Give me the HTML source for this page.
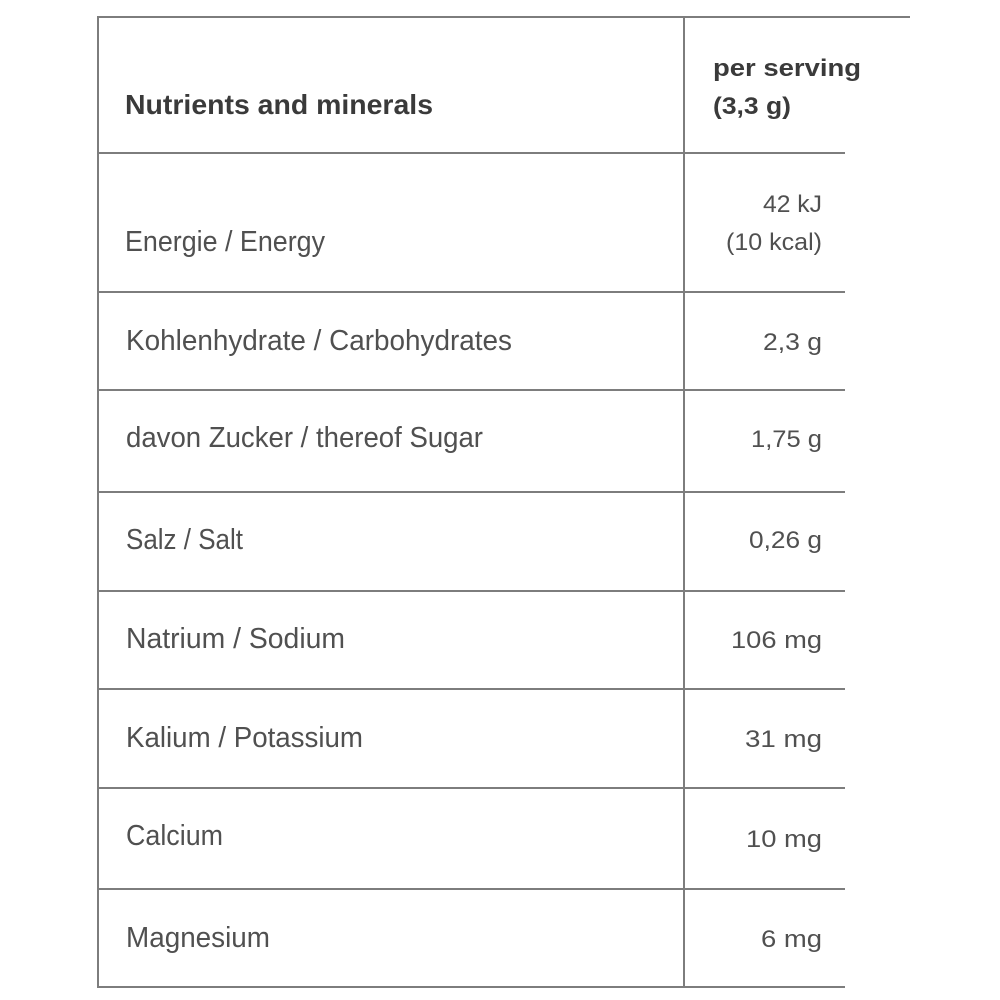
<!DOCTYPE html>
<html>
<head>
<meta charset="utf-8">
<style>
  html, body { margin: 0; padding: 0; background: #ffffff; }
  svg { display: block; }
  .l { font-family: "Liberation Sans", sans-serif; font-size: 29px; fill: #505050; }
  .v { font-family: "Liberation Sans", sans-serif; font-size: 24px; fill: #505050; }
  .h { font-family: "Liberation Sans", sans-serif; font-weight: bold; fill: #3a3a3a; }
</style>
</head>
<body>
<svg width="1000" height="1000" viewBox="0 0 1000 1000" xmlns="http://www.w3.org/2000/svg">
  <rect x="0" y="0" width="1000" height="1000" fill="#ffffff"/>
  <g stroke="#7d7d7d" stroke-width="2" fill="none">
    <line x1="98" y1="17" x2="910" y2="17"/>
    <line x1="98" y1="16" x2="98" y2="988"/>
    <line x1="684" y1="16" x2="684" y2="988"/>
    <line x1="98" y1="153" x2="845" y2="153"/>
    <line x1="98" y1="292" x2="845" y2="292"/>
    <line x1="98" y1="390" x2="845" y2="390"/>
    <line x1="98" y1="492" x2="845" y2="492"/>
    <line x1="98" y1="591" x2="845" y2="591"/>
    <line x1="98" y1="689" x2="845" y2="689"/>
    <line x1="98" y1="788" x2="845" y2="788"/>
    <line x1="98" y1="889" x2="845" y2="889"/>
    <line x1="98" y1="987" x2="845" y2="987"/>
  </g>

  <!-- Header -->
  <text class="h" x="125" y="114" font-size="28" textLength="308" lengthAdjust="spacingAndGlyphs">Nutrients and minerals</text>
  <text class="h" x="713" y="76" font-size="24" textLength="148" lengthAdjust="spacingAndGlyphs">per serving</text>
  <text class="h" x="713" y="114" font-size="24" textLength="78" lengthAdjust="spacingAndGlyphs">(3,3 g)</text>

  <!-- Left column -->
  <text class="l" x="125" y="251" textLength="200" lengthAdjust="spacingAndGlyphs">Energie / Energy</text>
  <text class="l" x="126" y="350" textLength="386" lengthAdjust="spacingAndGlyphs">Kohlenhydrate / Carbohydrates</text>
  <text class="l" x="126" y="447" textLength="357" lengthAdjust="spacingAndGlyphs">davon Zucker / thereof Sugar</text>
  <text class="l" x="126" y="549" textLength="117" lengthAdjust="spacingAndGlyphs">Salz / Salt</text>
  <text class="l" x="126" y="648" textLength="219" lengthAdjust="spacingAndGlyphs">Natrium / Sodium</text>
  <text class="l" x="126" y="747" textLength="237" lengthAdjust="spacingAndGlyphs">Kalium / Potassium</text>
  <text class="l" x="126" y="845" textLength="97" lengthAdjust="spacingAndGlyphs">Calcium</text>
  <text class="l" x="126" y="947" textLength="144" lengthAdjust="spacingAndGlyphs">Magnesium</text>

  <!-- Right column values -->
  <text class="v" x="763" y="212" textLength="59" lengthAdjust="spacingAndGlyphs">42 kJ</text>
  <text class="v" x="726" y="250" textLength="96" lengthAdjust="spacingAndGlyphs">(10 kcal)</text>
  <text class="v" x="763" y="350" textLength="59" lengthAdjust="spacingAndGlyphs">2,3 g</text>
  <text class="v" x="751" y="447" textLength="71" lengthAdjust="spacingAndGlyphs">1,75 g</text>
  <text class="v" x="749" y="548" textLength="73" lengthAdjust="spacingAndGlyphs">0,26 g</text>
  <text class="v" x="731" y="648" textLength="91" lengthAdjust="spacingAndGlyphs">106 mg</text>
  <text class="v" x="745" y="747" textLength="77" lengthAdjust="spacingAndGlyphs">31 mg</text>
  <text class="v" x="746" y="847" textLength="76" lengthAdjust="spacingAndGlyphs">10 mg</text>
  <text class="v" x="761" y="947" textLength="61" lengthAdjust="spacingAndGlyphs">6 mg</text>
</svg>
</body>
</html>
